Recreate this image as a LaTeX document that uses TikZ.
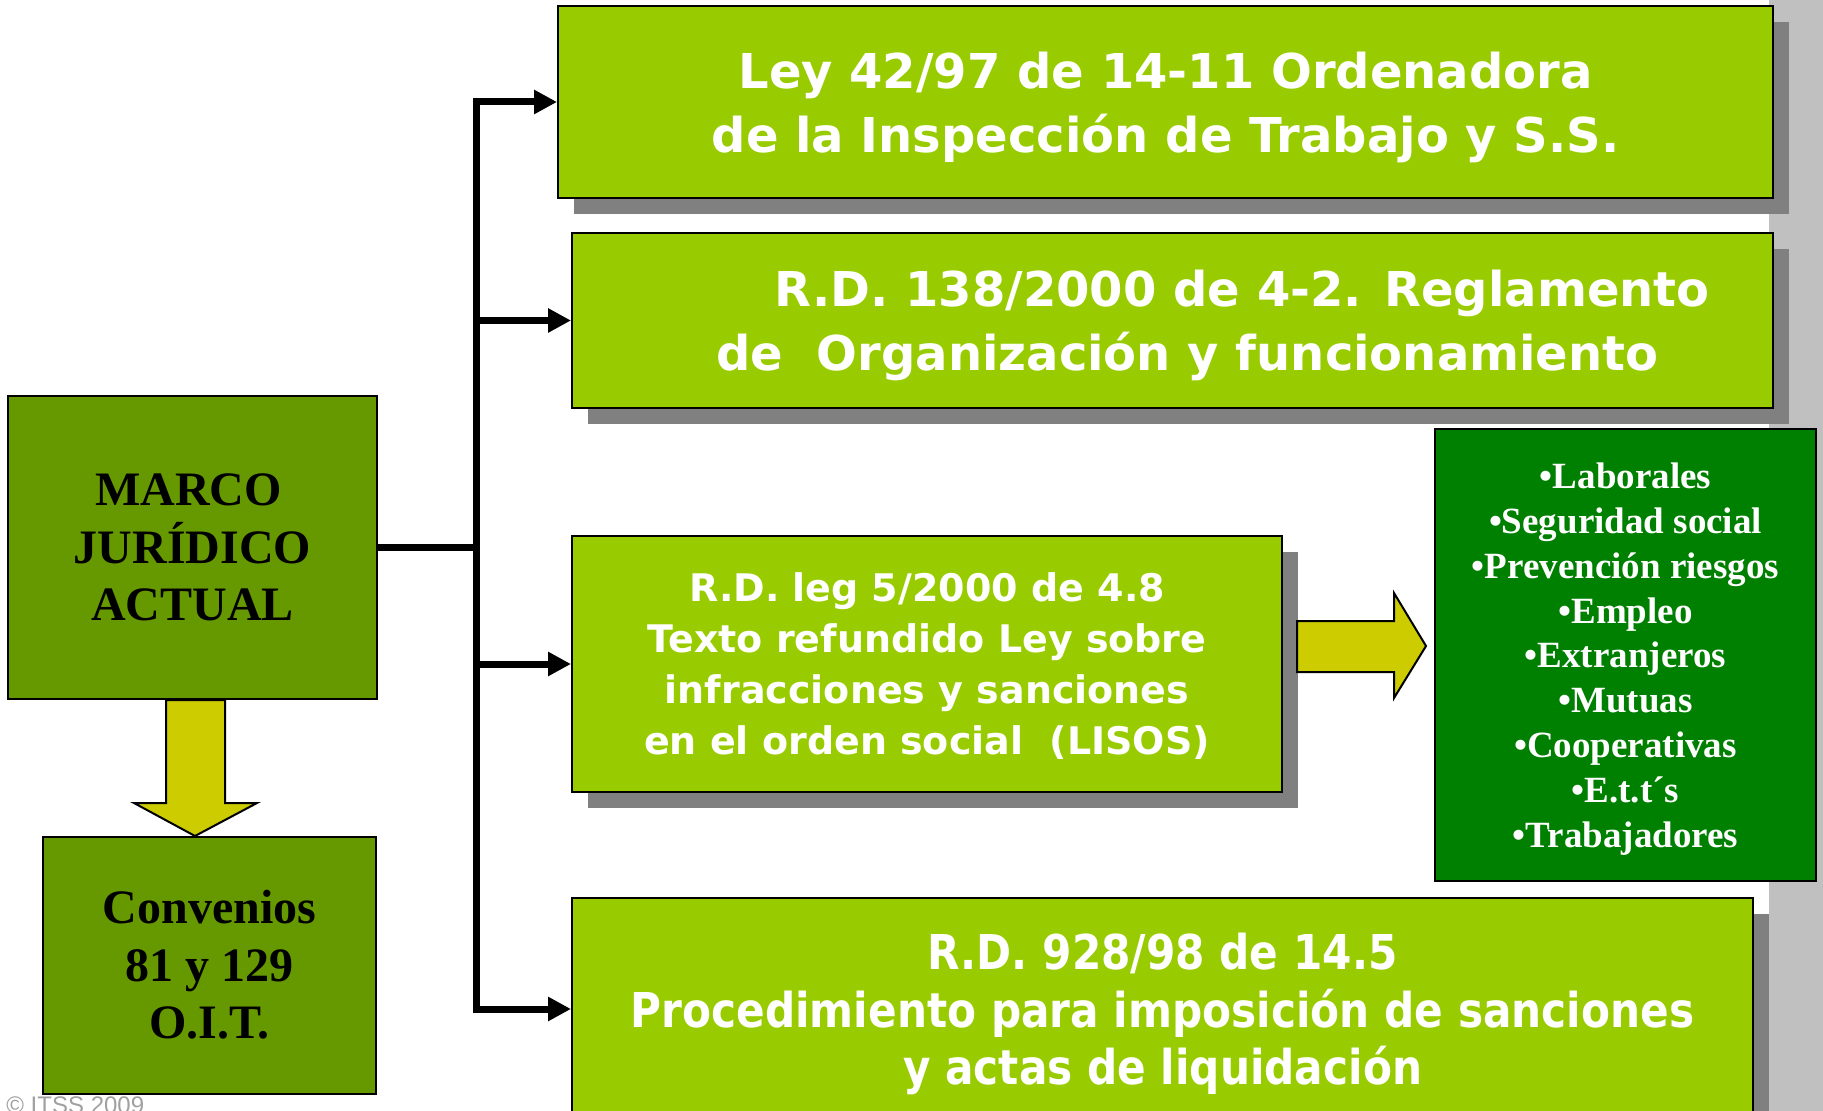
\documentclass[tikz,border=0pt]{standalone}
\usepackage{fontspec}
\usetikzlibrary{arrows.meta,shadows}
\newfontfamily\verdana{DejaVu Sans}
\newfontfamily\verdanaestrecha{DejaVu Sans}[FakeStretch=0.88]
\newfontfamily\romana{Liberation Serif}
\newfontfamily\arialf{Liberation Sans}
\begin{document}
\begin{tikzpicture}[x=0.5pt,y=-0.5pt]
        \definecolor{verdeclaro}{RGB}{153,204,0}
        \definecolor{verdeoscuro}{RGB}{102,153,0}
        \definecolor{verdelista}{RGB}{0,128,0}
        \definecolor{amarillo}{RGB}{204,204,0}
        \definecolor{sombra}{RGB}{128,128,128}
        \definecolor{grisfondo}{RGB}{192,192,192}
        \definecolor{griscopy}{RGB}{160,160,160}
        \tikzset{
                caja_ley/.style={draw=black,line width=1pt,fill=verdeclaro,text=white,align=center,inner sep=0pt,
                        text depth=0pt,
                        drop shadow={shadow xshift=8pt,shadow yshift=-8pt,fill=sombra,opacity=1}},
                caja_marco/.style={draw=black,line width=1pt,fill=verdeoscuro,text=black,align=center,inner sep=0pt,
                        font=\romana\bfseries\fontsize{24}{28.8}\selectfont},
                caja_lista/.style={draw=black,line width=1pt,fill=verdelista,text=white,align=center,inner sep=0pt,
                        text depth=0pt,font=\romana\bfseries\fontsize{18.5}{22.4}\selectfont},
                conector/.style={line width=3.5pt,-{Triangle[length=11.5pt,width=11.5pt]}},
                flecha_gorda/.style={draw=black,line width=1pt,fill=amarillo}
        }
        \useasboundingbox (0,0) rectangle (1823,1111);
        \fill[grisfondo] (1769,0) rectangle (1823,1111);
        % cajas de normas
        \node[caja_ley,minimum width=607.5pt,minimum height=96pt,
                font=\verdana\bfseries\fontsize{24}{32}\selectfont] (ley) at (1165.5,102)
                {Ley 42/97 de 14-11 Ordenadora\\de la Inspección de Trabajo y S.S.};
        \node[caja_ley,minimum width=600.5pt,minimum height=87.5pt,
                font=\verdana\bfseries\fontsize{24}{32}\selectfont] (rd138) at (1172.5,320.5)
                {\hspace*{69.5pt}R.D. 138/2000 de 4-2. Reglamento\\\hspace*{15pt}de\ \ Organización y funcionamiento};
        \node[caja_ley,minimum width=355pt,minimum height=128pt,
                font=\verdana\bfseries\fontsize{19}{25.5}\selectfont] (lisos) at (927,664)
                {R.D. leg 5/2000 de 4.8\\Texto refundido Ley sobre\\infracciones y sanciones\\en el orden social\ \ (LISOS)};
        \node[caja_ley,minimum width=590.5pt,minimum height=111pt,
                font=\verdanaestrecha\bfseries\fontsize{24}{28.8}\selectfont] (rd928) at (1162.5,1009)
                {R.D. 928/98 de 14.5\\Procedimiento para imposición de sanciones\\y actas de liquidación};
        \node[caja_lista,minimum width=190.5pt,minimum height=226pt] (lista) at (1625.5,655)
                {•Laborales\\•Seguridad social\\•Prevención riesgos\\•Empleo\\•Extranjeros\\•Mutuas\\•Cooperativas\\•E.t.t´s\\•Trabajadores};
        % marco y convenios
        \node[caja_marco,minimum width=184.5pt,minimum height=151.5pt] (marco) at (192.5,547.5)
                {MARCO\hspace*{4pt}\\JURÍDICO\hspace*{4pt}\\ACTUAL};
        \node[caja_marco,minimum width=166.5pt,minimum height=128.5pt] (convenios) at (209.5,965)
                {Convenios\\81 y 129\\O.I.T.};
        \foreach \destino in {ley,rd138,lisos,rd928}
                \draw[conector] (marco.east) -- ++(98,0) |- (\destino.west);
        \draw[flecha_gorda] (166,700) -- (166,803) -- (134,803) -- (195,836) -- (257,803) -- (225,803) -- (225,700) -- cycle;
        \draw[flecha_gorda] (1297,621) -- (1394,621) -- (1394,593) -- (1426,646) -- (1394,698) -- (1394,672) -- (1297,672) -- cycle;
        \node[anchor=base west,text=griscopy,font=\arialf\fontsize{12}{14}\selectfont,inner sep=0pt] (copy) at (6,1113) {© ITSS 2009};
\end{tikzpicture}
\end{document}
